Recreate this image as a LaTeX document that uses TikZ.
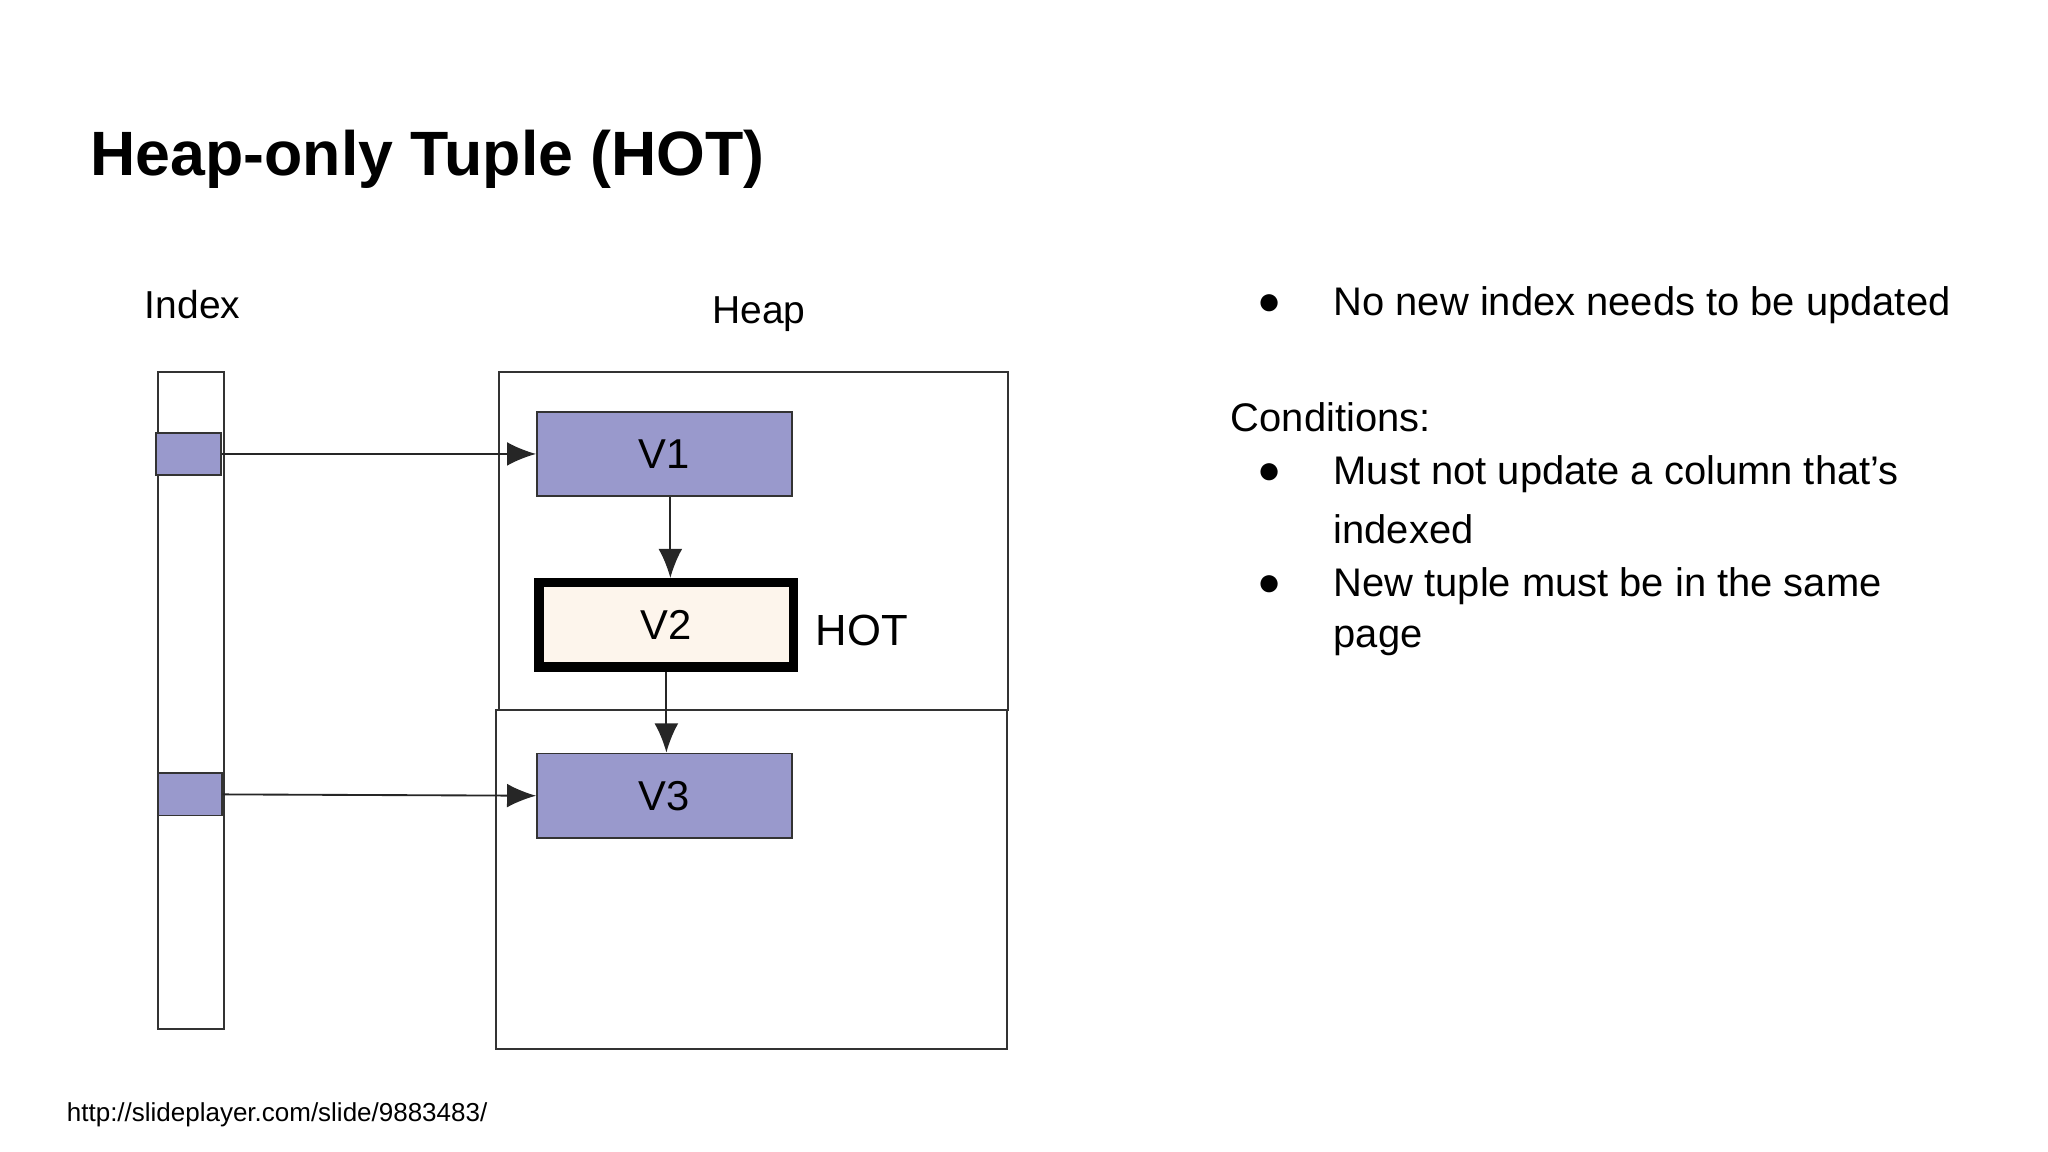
\documentclass[tikz,border=0pt]{standalone}
\usepackage{fontspec}
\setmainfont{Liberation Sans}
\usetikzlibrary{arrows.meta,positioning}
\definecolor{tuple}{HTML}{9999CC}
\definecolor{hotfill}{HTML}{FDF5EC}
\begin{document}
\begin{tikzpicture}[x=0.01cm,y=-0.01cm]
\tikzset{tuplebox/.style={draw=black!80,fill=tuple,minimum width=1.93cm,minimum height=0.64cm,inner sep=0pt,font=\fontsize{9}{10}\selectfont},
         link/.style={-{Latex[length=2.2mm,width=1.8mm]},black!85},
         bodytext/.style={anchor=west,inner sep=0pt,font=\fontsize{8.6}{10}\selectfont}}
\useasboundingbox (0,0) rectangle (1552,873);

%titre
\node[anchor=west,inner sep=0pt,font=\fontsize{13.5}{15}\bfseries] (title) at (68,121) {Heap-only Tuple (HOT)};

%index
\node[font=\fontsize{8.4}{10}\selectfont] (indexlabel) at (146,231) {Index};
\draw[black!80] (120,282) rectangle (170,780);
\node[draw=black!80,fill=tuple,minimum width=0.49cm,minimum height=0.32cm,inner sep=0pt] (cellA) at (143,344) {};
\node[draw=black!80,fill=tuple,minimum width=0.48cm,minimum height=0.32cm,inner sep=0pt] (cellB) at (144,602) {};

%heap
\node[font=\fontsize{8.4}{10}\selectfont] (heaplabel) at (575,238) {Heap};
\draw[black!80] (378,282) rectangle (764,538);
\draw[black!80] (376,538) rectangle (763,795);

\node[tuplebox] (V1) at (503.5,344) {V1};
\node[tuplebox,draw=black,line width=1.4mm/2,fill=hotfill] (V2) at (505,473.5) {V2};
\node[tuplebox] (V3) at (503.5,603) {V3};
\node[font=\fontsize{9.4}{10}\selectfont] (hot) at (653,478) {HOT};

%pointeurs
\draw[link] (cellA.east) -- (V1.west);
\draw[link] (cellB.east) -- (V3.west);
\draw[link] (V1.south -| 508,0) -- (V2.north -| 508,0);
\draw[link] (V2.south) -- (V3.north -| V2.south);

%texte
\node[bodytext] (b1) at (952,231) {●};
\node[bodytext] (t1) at (1010,231) {No new index needs to be updated};
\node[bodytext] (cond) at (932,316) {Conditions:};
\node[bodytext] (b2) at (952,359) {●};
\node[bodytext] (t2) at (1010,359) {Must not update a column that’s};
\node[bodytext] (t2b) at (1010,401) {indexed};
\node[bodytext] (b3) at (952,444) {●};
\node[bodytext] (t3) at (1010,444) {New tuple must be in the same};
\node[bodytext] (t3b) at (1010,486) {page};

\node[anchor=west,inner sep=0pt,font=\fontsize{5.6}{7}\selectfont] (url) at (50,845) {http://slideplayer.com/slide/9883483/};
\end{tikzpicture}
\end{document}
